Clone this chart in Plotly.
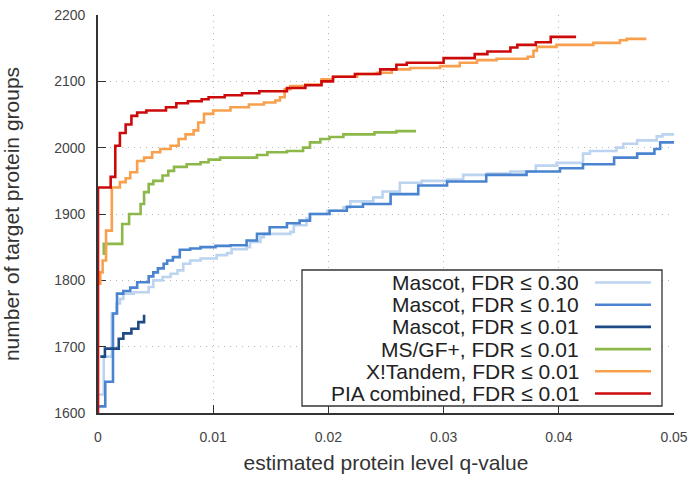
import plotly.graph_objects as go

# ---------------- data ----------------
names = ["Mascot, FDR \u2264 0.30", "Mascot, FDR \u2264 0.10", "Mascot, FDR \u2264 0.01",
         "MS/GF+, FDR \u2264 0.01", "X!Tandem, FDR \u2264 0.01", "PIA combined, FDR \u2264 0.01"]
colors = ["#bcd4ef", "#4a84d0", "#1f4a86", "#8cb84a", "#f8a04e", "#cc0a0a"]

light_x = [0, 0.0005, 0.0012, 0.0016, 0.0019, 0.0022, 0.0031, 0.0044, 0.0048, 0.0056, 0.0063, 0.0069,
           0.0074, 0.0080, 0.0089, 0.0103, 0.0112, 0.0116, 0.0129, 0.0132, 0.0141, 0.0144, 0.0167, 0.0170,
           0.0181, 0.0184, 0.0199, 0.0213, 0.0219, 0.0239, 0.0247, 0.0262, 0.0281, 0.0303, 0.0317, 0.0338,
           0.0358, 0.0380, 0.0398, 0.0421, 0.0427, 0.0450, 0.0456, 0.0468, 0.0485, 0.0490, 0.0500]
light_y = [1628, 1685, 1750, 1765, 1772, 1780, 1782, 1790, 1800, 1805, 1810, 1815, 1825, 1830, 1833, 1838,
           1841, 1847, 1850, 1858, 1865, 1870, 1873, 1883, 1893, 1900, 1905, 1910, 1919, 1925, 1934, 1947,
           1950, 1952, 1959, 1961, 1964, 1973, 1977, 1991, 1995, 2000, 2006, 2011, 2017, 2020, 2022]

mid_x = [0, 0.00063, 0.0013, 0.00165, 0.0022, 0.0028, 0.0034, 0.0044, 0.0048, 0.0052, 0.0057, 0.0060,
         0.0065, 0.0071, 0.0080, 0.0089, 0.0102, 0.0115, 0.0129, 0.0138, 0.0149, 0.0164, 0.0175, 0.0184,
         0.0201, 0.0216, 0.0230, 0.0254, 0.0278, 0.0303, 0.0337, 0.0372, 0.0401, 0.0421, 0.0448, 0.0468,
         0.0483, 0.0488, 0.0500]
mid_y = [1610, 1647, 1750, 1780, 1784, 1789, 1797, 1806, 1812, 1818, 1825, 1830, 1835, 1846, 1848, 1850,
         1852, 1853, 1860, 1870, 1880, 1886, 1890, 1900, 1905, 1911, 1915, 1930, 1943, 1949, 1959, 1964,
         1969, 1975, 1985, 1991, 1998, 2008, 2008]

navy_x = [0.0002, 0.0006, 0.0018, 0.0022, 0.0029, 0.0035, 0.0040]
navy_y = [1685, 1697, 1712, 1720, 1727, 1737, 1748]

green_x = [0.0004, 0.0005, 0.0021, 0.0027, 0.0037, 0.0040, 0.0044, 0.0048, 0.0056, 0.0061, 0.0066, 0.0077,
           0.0089, 0.0096, 0.0106, 0.0138, 0.0147, 0.0164, 0.0178, 0.0184, 0.0193, 0.0201, 0.0213, 0.0240,
           0.0259, 0.0276]
green_y = [1840, 1855, 1885, 1900, 1915, 1933, 1945, 1950, 1958, 1965, 1971, 1975, 1978, 1982, 1985, 1989,
           1993, 1995, 2000, 2008, 2013, 2016, 2020, 2023, 2025, 2025]

orange_x = [0, 0.0002, 0.0004, 0.0007, 0.0012, 0.0019, 0.0024, 0.0028, 0.0034, 0.0040, 0.0047, 0.0054,
            0.0063, 0.0070, 0.0076, 0.0083, 0.0087, 0.0092, 0.0100, 0.0115, 0.0131, 0.0144, 0.0154, 0.0158,
            0.0162, 0.0167, 0.0180, 0.0194, 0.0204, 0.0225, 0.0242, 0.0255, 0.0271, 0.0297, 0.0314, 0.0329,
            0.0346, 0.0373, 0.0378, 0.0381, 0.0398, 0.0430, 0.0453, 0.0459, 0.0476]
orange_y = [1795, 1812, 1830, 1875, 1940, 1948, 1954, 1963, 1980, 1985, 1993, 1998, 2003, 2013, 2020, 2026,
            2038, 2051, 2056, 2061, 2065, 2068, 2071, 2076, 2088, 2093, 2095, 2103, 2107, 2111, 2113, 2118,
            2120, 2123, 2128, 2132, 2134, 2137, 2146, 2152, 2155, 2158, 2162, 2164, 2164]

red_x = [0, 0, 0.0011, 0.0015, 0.0019, 0.0024, 0.0029, 0.0034, 0.0042, 0.0059, 0.0068, 0.0078, 0.0090,
         0.0096, 0.0110, 0.0125, 0.0140, 0.0164, 0.0180, 0.0194, 0.0204, 0.0223, 0.0245, 0.0259, 0.0268,
         0.0300, 0.0327, 0.0338, 0.0358, 0.0364, 0.0380, 0.0393, 0.0415]
red_y = [1600, 1940, 1956, 2003, 2022, 2035, 2048, 2053, 2056, 2061, 2067, 2070, 2073, 2076, 2079, 2082,
         2085, 2090, 2094, 2100, 2107, 2111, 2118, 2125, 2128, 2135, 2141, 2145, 2151, 2155, 2159, 2167, 2167]

x_ticks = [0, 0.01, 0.02, 0.03, 0.04, 0.05]
x_ticktext = ["0", "0.01", "0.02", "0.03", "0.04", "0.05"]
y_ticks = [1600, 1700, 1800, 1900, 2000, 2100, 2200]

series = [(light_x, light_y), (mid_x, mid_y), (navy_x, navy_y),
          (green_x, green_y), (orange_x, orange_y), (red_x, red_y)]

# ---------------- layout geometry ----------------
W, H = 693, 481
L, R, T, B = 98, 19, 15, 68
PW, PH = W - L - R, H - T - B
FONT = "Liberation Sans, Arial, sans-serif"


def px(xp):
    return (xp - L) / PW


def py(yp):
    return (H - B - yp) / PH


fig = go.Figure()
for (xs, ys), name, col in zip(series, names, colors):
    fig.add_trace(go.Scatter(x=xs, y=ys, mode="lines", name=name,
                             line=dict(color=col, width=2.6, shape="hv"),
                             showlegend=False))

# custom legend (text left, sample right, like gnuplot key)
shapes = [dict(type="rect", xref="paper", yref="paper",
               x0=px(302), x1=px(662), y0=py(406), y1=py(270),
               line=dict(color="#333333", width=1.3), fillcolor="white", layer="above")]
annotations = []
row0, drow = 282.5, 22.2
for i, (name, col) in enumerate(zip(names, colors)):
    yy = py(row0 + i * drow)
    annotations.append(dict(xref="paper", yref="paper", x=px(581), y=yy, text=name,
                            showarrow=False, xanchor="right", yanchor="middle",
                            font=dict(family=FONT, size=21, color="#222222")))
    shapes.append(dict(type="line", xref="paper", yref="paper",
                       x0=px(595), x1=px(651), y0=yy, y1=yy,
                       line=dict(color=col, width=2.6), layer="above"))

axis_common = dict(
    showline=True, linecolor="#333333", linewidth=1.6,
    ticks="inside", ticklen=8, tickwidth=1.4, tickcolor="#333333",
    showgrid=True, gridcolor="#b5b5b5", gridwidth=1, griddash="1px,5px",
    zeroline=False, layer="below traces",
    tickfont=dict(family=FONT, size=14, color="#444444"),
)

fig.update_layout(
    width=W, height=H,
    margin=dict(l=L, r=R, t=T, b=B, autoexpand=False),
    paper_bgcolor="white", plot_bgcolor="white",
    shapes=shapes, annotations=annotations,
    xaxis=dict(range=[0, 0.05], tickvals=x_ticks, ticktext=x_ticktext,
               ticklabelstandoff=10,
               title=dict(text="estimated protein level q-value", standoff=12,
                          font=dict(family=FONT, size=21, color="#333333")),
               **axis_common),
    yaxis=dict(range=[1600, 2200], tickvals=y_ticks,
               ticklabelstandoff=8,
               title=dict(text="number of target protein groups", standoff=30,
                          font=dict(family=FONT, size=21, color="#333333")),
               **axis_common),
)

fig.write_html("out.html")
